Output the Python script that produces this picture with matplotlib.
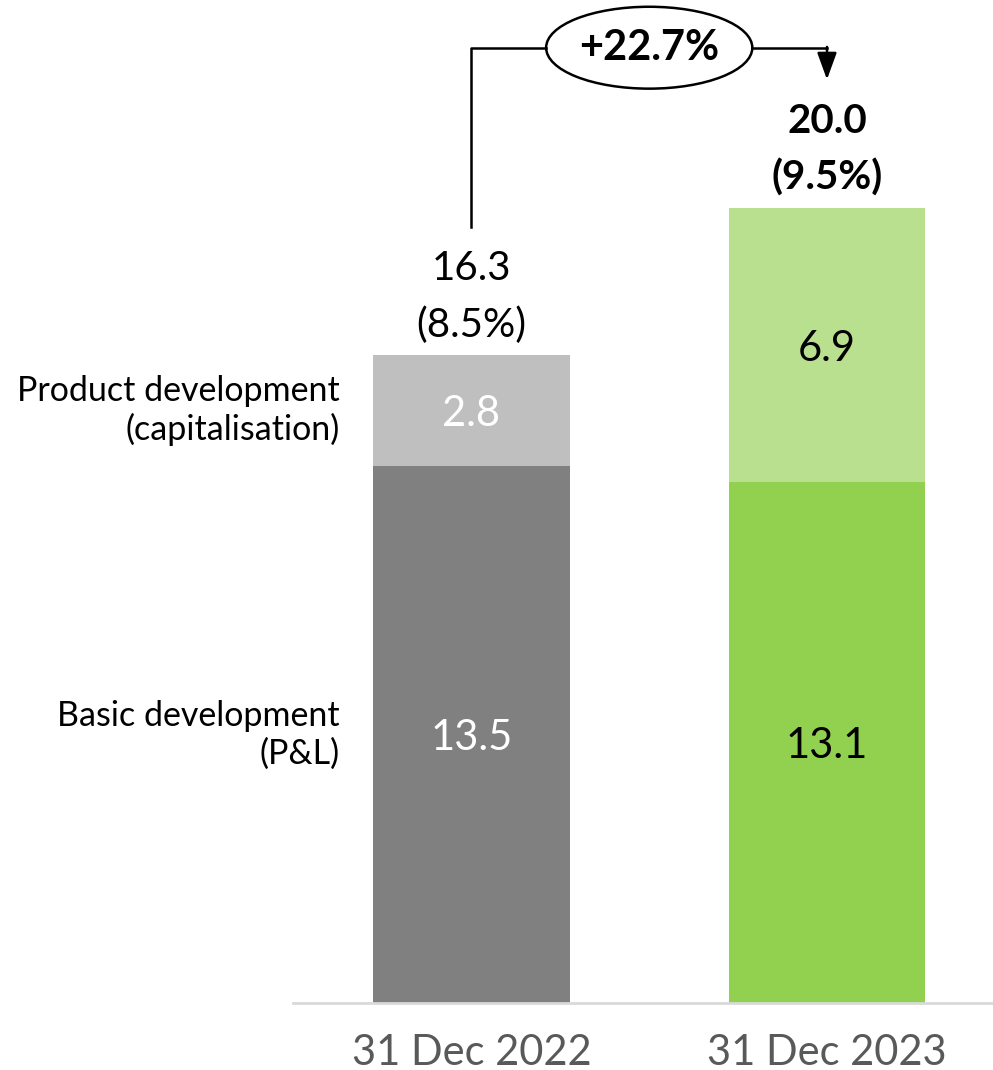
import numpy as np
import matplotlib.pyplot as plt
from matplotlib.patches import Ellipse

plt.rcParams['font.family'] = ['Lato', 'DejaVu Sans']

# data
periods = ['31 Dec 2022', '31 Dec 2023']
basic = [13.5, 13.1]          # Basic development (P&L)
product = [2.8, 6.9]          # Product development (capitalisation)
totals = [16.3, 20.0]
shares = ['(8.5%)', '(9.5%)']
growth = '+22.7%'
row_names = ['Basic development\n(P&L)', 'Product development\n(capitalisation)']

basic_col = ['#808080', '#92d050']
prod_col = ['#bfbfbf', '#b9e08e']
inner_txt = ['white', 'black']

fig = plt.figure(figsize=(9.93, 10.7), dpi=100)
ax = fig.add_axes([293/993, 67/1070, 700/993, 1003/1070])

x = np.arange(len(periods))
w = 0.554
ax.bar(x, basic, w, color=basic_col)
ax.bar(x, product, w, bottom=basic, color=prod_col)

ax.set_xlim(-0.502, 1.467)
ax.set_ylim(0, 25.23)

for i in range(len(x)):
    ax.text(x[i], basic[i]/2, f'{basic[i]:.1f}', ha='center', va='center_baseline',
            fontsize=30, color=inner_txt[i])
    ax.text(x[i], basic[i] + product[i]/2, f'{product[i]:.1f}', ha='center',
            va='center_baseline', fontsize=30, color=inner_txt[i])
    wt = 'bold' if i == 1 else 'normal'
    ax.text(x[i], totals[i] + 2.17, f'{totals[i]:.1f}', ha='center', va='center',
            fontsize=29, fontweight=wt, color='black')
    ax.text(x[i], totals[i] + 0.76, shares[i], ha='center', va='center',
            fontsize=29, fontweight=wt, color='black')

# row labels on the left
ax.text(-0.37, basic[0]/2, row_names[0], ha='right', va='center', fontsize=24.5,
        linespacing=1.2)
ax.text(-0.37, basic[0] + product[0]/2, row_names[1], ha='right', va='center',
        fontsize=24.5, linespacing=1.2)

# growth bracket
ytop = 24.03
ax.plot([x[0], x[0], 0.21], [totals[0] + 3.22, ytop, ytop], color='black', lw=1.8,
        clip_on=False)
ax.plot([0.79, x[1]], [ytop, ytop], color='black', lw=1.8, clip_on=False)
ax.annotate('', xy=(x[1], 23.23), xytext=(x[1], ytop + 0.02),
            arrowprops=dict(arrowstyle='-|>,head_length=0.55,head_width=0.2',
                            color='black', lw=1.8,
                            mutation_scale=30, shrinkA=0, shrinkB=0),
            annotation_clip=False)
ax.add_patch(Ellipse((0.5, ytop), 0.58, 2.06, facecolor='white', edgecolor='black',
                     lw=1.8, clip_on=False))
ax.text(0.5, ytop, growth, ha='center', va='center', fontsize=30, fontweight='bold')

for s in ['top', 'right', 'left']:
    ax.spines[s].set_visible(False)
ax.spines['bottom'].set_color('#d9d9d9')
ax.spines['bottom'].set_linewidth(2)
ax.set_yticks([])
ax.set_xticks(x)
ax.set_xticklabels(periods, fontsize=30, color='#595959')
ax.tick_params(axis='x', length=0, pad=22)

fig.savefig('out.png', dpi=100)
